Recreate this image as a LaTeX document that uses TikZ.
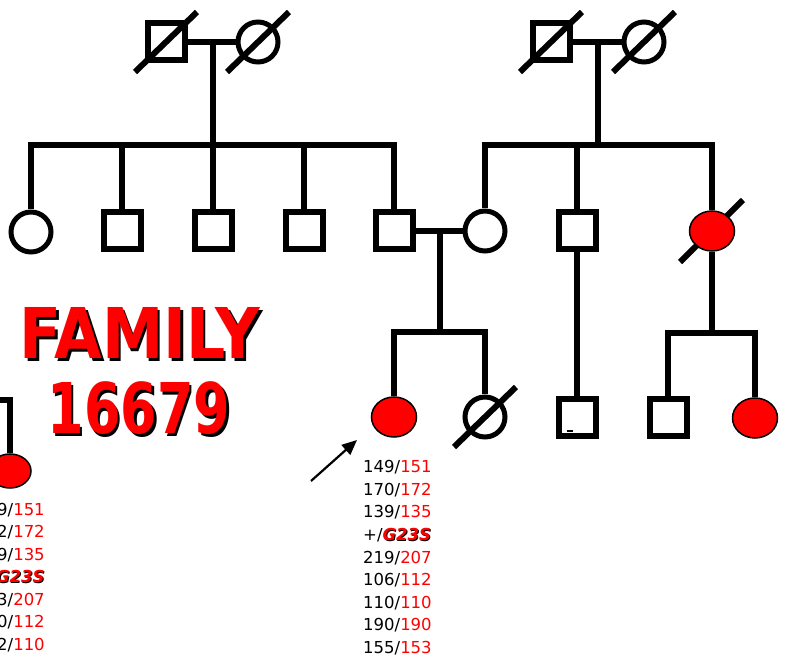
\documentclass[tikz,border=0pt]{standalone}
\usepackage{fontspec}
\setmainfont{DejaVu Sans}
\usetikzlibrary{shapes.geometric,arrows.meta}
\definecolor{pedred}{RGB}{255,0,0}
\pgfdeclarelayer{background}
\pgfsetlayers{background,main}

% allele pair: first value black, second red
\newcommand\mkpair[2]{#1/\textcolor{pedred}{#2}}
% red text with a black drop shadow offset by #1
\newcommand\shadowed[2]{\makebox[0pt][l]{\raisebox{-#1}{\hspace{#1}\textcolor{black}{#2}}}\textcolor{pedred}{#2}}
\newcommand\mutation{\textbf{\textit{\shadowed{1pt}{G23S}}}}

\begin{document}
\begin{tikzpicture}[x=1pt,y=-1pt,
  line/.style={line width=5.5pt},
  male/.style={draw,line width=6pt,minimum size=37pt,inner sep=0pt,fill=white},
  female/.style={circle,draw,line width=5pt,minimum size=40pt,inner sep=0pt,fill=white},
  affected/.style={ellipse,draw,fill=pedred,line width=1.5pt,minimum width=45pt,minimum height=40pt,inner sep=0pt},
  deceased/.style={line width=6pt},
  marker/.style={anchor=base west,font=\fontsize{16.5}{18}\selectfont,inner sep=0pt},
  title/.style={anchor=base,inner sep=0pt,font=\fontsize{70}{71}\selectfont\bfseries},
]
\useasboundingbox (0,0) rectangle (788,660);

% generation I
\node[male] (I1) at (166,42) {};
\node[female] (I2) at (258,42) {};
\node[male] (I3) at (551,42) {};
\node[female] (I4) at (644,42) {};

% generation II
\node[female] (II1) at (31,232) {};
\node[male] (II2) at (122,231) {};
\node[male] (II3) at (213,231) {};
\node[male] (II4) at (304,231) {};
\node[male] (II5) at (394,231) {};
\node[female] (II6) at (485,231) {};
\node[male] (II7) at (577,231) {};
\node[affected] (II8) at (712,231) {};

% generation III
\node[affected] (III1) at (394,417) {};
\node[female] (III2) at (485,417) {};
\node[male] (III3) at (577,418) {};
\node[male] (III4) at (668,418) {};
\node[affected] (III5) at (755,418) {};

% neighbouring branch at the left edge
\node[affected,minimum width=42pt,minimum height=34pt] (X1) at (10,471) {};

% junction points of the lines of descent
\coordinate (m1) at (213,42);
\coordinate (c1) at (213,145);
\coordinate (d2) at (122,145);
\coordinate (d4) at (304,145);
\coordinate (m2) at (598,42);
\coordinate (c2) at (598,145);
\coordinate (d7) at (577,145);
\coordinate (m3) at (440,231);
\coordinate (c3) at (440,332);
\coordinate (c4) at (712,333);
\coordinate (xl) at (-10,400);

\begin{pgfonlayer}{background}
  % left family
  \draw[line] (I1) -- (I2);
  \draw[line] (m1) -- (c1);
  \draw[line] (II1) |- (c1) -| (II5);
  \draw[line] (d2) -- (II2);
  \draw[line] (c1) -- (II3);
  \draw[line] (d4) -- (II4);
  % right family
  \draw[line] (I3) -- (I4);
  \draw[line] (m2) -- (c2);
  \draw[line] (II6) |- (c2) -| (II8);
  \draw[line] (d7) -- (II7);
  % marriage and offspring
  \draw[line] (II5) -- (II6);
  \draw[line] (m3) -- (c3);
  \draw[line] (III1) |- (c3) -| (III2);
  \draw[line] (II7) -- (III3);
  \draw[line] (II8) -- (c4);
  \draw[line] (III4) |- (c4) -| (III5);
  \draw[line] (xl) -| (X1);
  % deceased mark hidden behind the filled symbol
  \draw[deceased] ([shift={(-32,31)}]II8.center) -- ([shift={(31,-31)}]II8.center);
\end{pgfonlayer}

% deceased marks
\foreach \n in {I1,I2,I3,I4,III2}
  \draw[deceased] ([shift={(-31,30)}]\n.center) -- ([shift={(31,-30)}]\n.center);

% small mark inside III3
\draw[line width=1.3pt] ([shift={(-10,13)}]III3.center) -- ([shift={(-4,13)}]III3.center);

% proband arrow
\coordinate (a0) at (311,481);
\coordinate (a1) at (357,440);
\draw[line width=2.2pt,-{Triangle[length=15pt,width=13pt]}] (a0) -- (a1);

% title
\node[title] (t1) at (140,359) {\scalebox{0.88}[1]{\shadowed{3pt}{FAMILY}}};
\node[title] (t2) at (139,434) {\scalebox{0.75}[1]{\shadowed{3pt}{16679}}};

% haplotype of the proband
\node[marker] (h1) at (363,473) {\mkpair{149}{151}};
\node[marker] (h2) at (363,495.5) {\mkpair{170}{172}};
\node[marker] (h3) at (363,518) {\mkpair{139}{135}};
\node[marker] (h4) at (363,540.5) {+/\mutation};
\node[marker] (h5) at (363,563) {\mkpair{219}{207}};
\node[marker] (h6) at (363,585.5) {\mkpair{106}{112}};
\node[marker] (h7) at (363,608) {\mkpair{110}{110}};
\node[marker] (h8) at (363,630.5) {\mkpair{190}{190}};
\node[marker] (h9) at (363,653) {\mkpair{155}{153}};

% haplotype of the left-hand relative
\node[marker] (k1) at (-3,515) {\mkpair{9}{151}};
\node[marker] (k2) at (-3,537.5) {\mkpair{2}{172}};
\node[marker] (k3) at (-3,560) {\mkpair{9}{135}};
\node[marker] (k4) at (-4,582.5) {\mutation};
\node[marker] (k5) at (-3,605) {\mkpair{3}{207}};
\node[marker] (k6) at (-3,627.5) {\mkpair{0}{112}};
\node[marker] (k7) at (-3,650) {\mkpair{2}{110}};
\end{tikzpicture}
\end{document}
